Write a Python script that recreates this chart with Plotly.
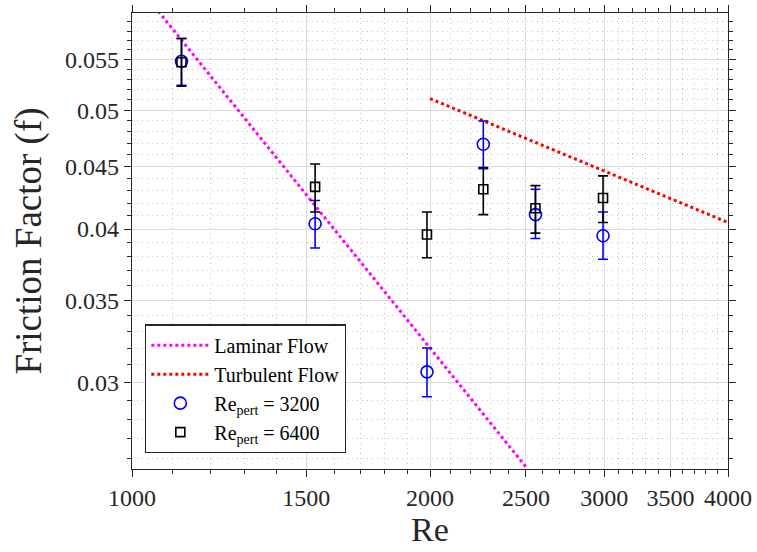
import plotly.graph_objects as go
import math

# ---- data ----
re_pts = [1122, 1531, 1986, 2264, 2556, 2991]

f_3200 = [0.0548, 0.0404, 0.0306, 0.0469, 0.0411, 0.0395]
err_up_3200 = [0.0024, 0.0018, 0.0014, 0.0021, 0.0020, 0.0018]
err_dn_3200 = [0.0024, 0.0018, 0.0014, 0.0021, 0.0018, 0.0017]

f_6400 = [0.0547, 0.0433, 0.0396, 0.0431, 0.0416, 0.0424]
err_up_6400 = [0.0025, 0.0019, 0.0017, 0.0018, 0.0018, 0.0018]
err_dn_6400 = [0.0024, 0.0020, 0.0017, 0.0020, 0.0019, 0.0019]

laminar_re = [1000, 2500]
laminar_f = [0.064, 0.0256]

turbulent_re = [2000, 4000]
turbulent_f = [0.0511, 0.0405]

x_ticks = [1000, 1500, 2000, 2500, 3000, 3500, 4000]
x_ticklabels = ["1000", "1500", "2000", "2500", "3000", "3500", "4000"]
y_ticks = [0.03, 0.035, 0.04, 0.045, 0.05, 0.055]
y_ticklabels = ["0.03", "0.035", "0.04", "0.045", "0.05", "0.055"]

x_minor = [v for v in range(1100, 4000, 100) if v not in x_ticks]
y_minor = [round(v * 0.001, 3) for v in range(26, 60) if round(v * 0.001, 3) not in y_ticks]

axis_col = "#262626"
font_fam = "Liberation Serif"

fig = go.Figure()

fig.add_trace(go.Scatter(
    x=laminar_re, y=laminar_f, mode="lines", name="Laminar Flow",
    line=dict(color="#ff00ff", width=3, dash="dot"),
))
fig.add_trace(go.Scatter(
    x=turbulent_re, y=turbulent_f, mode="lines", name="Turbulent Flow",
    line=dict(color="#ff0000", width=3, dash="dot"),
))
fig.add_trace(go.Scatter(
    x=re_pts, y=f_3200, mode="markers", name="Re<sub>pert</sub> = 3200",
    marker=dict(symbol="circle-open", size=12, color="#0000ff", line=dict(width=1.6, color="#0000ff")),
    error_y=dict(type="data", symmetric=False, array=err_up_3200, arrayminus=err_dn_3200,
                 color="#0000ff", thickness=1.6, width=5),
))
fig.add_trace(go.Scatter(
    x=re_pts, y=f_6400, mode="markers", name="Re<sub>pert</sub> = 6400",
    marker=dict(symbol="square-open", size=9, color="#000000", line=dict(width=1.6, color="#000000")),
    error_y=dict(type="data", symmetric=False, array=err_up_6400, arrayminus=err_dn_6400,
                 color="#000000", thickness=1.6, width=5),
))

common_axis = dict(
    type="log",
    showline=True, linecolor=axis_col, linewidth=1.2,
    mirror="ticks",
    ticks="outside", ticklen=7, tickwidth=1, tickcolor=axis_col,
    showgrid=True, gridcolor="#dcdcdc", gridwidth=1,
    zeroline=False,
    tickfont=dict(family=font_fam, size=24, color=axis_col),
)

minor_common = dict(tickmode="array", ticks="outside", ticklen=4,
                    tickcolor=axis_col, showgrid=True, gridcolor="#c4c4c4",
                    griddash="1px,4px", gridwidth=1)

fig.update_xaxes(
    **common_axis,
    range=[3, math.log10(4000)],
    tickmode="array", tickvals=x_ticks, ticktext=x_ticklabels,
    minor=dict(tickvals=x_minor, **minor_common),
    title=dict(text="Re", font=dict(family=font_fam, size=34, color=axis_col), standoff=6),
)
fig.update_yaxes(
    **common_axis,
    range=[math.log10(0.0255), math.log10(0.06)],
    tickmode="array", tickvals=y_ticks, ticktext=y_ticklabels,
    minor=dict(tickvals=y_minor, **minor_common),
    title=dict(text="Friction Factor (f)", font=dict(family=font_fam, size=37, color=axis_col), standoff=12),
)

fig.update_layout(
    width=757, height=552,
    margin=dict(l=132, r=29, t=5, b=83),
    paper_bgcolor="white", plot_bgcolor="white",
    showlegend=True,
    legend=dict(
        x=0.022, y=0.317, xanchor="left", yanchor="top",
        bgcolor="white", bordercolor=axis_col, borderwidth=1.2,
        font=dict(family=font_fam, size=20, color="#000000"),
        itemwidth=58, tracegroupgap=0,
    ),
)

fig.write_html("out.html")
